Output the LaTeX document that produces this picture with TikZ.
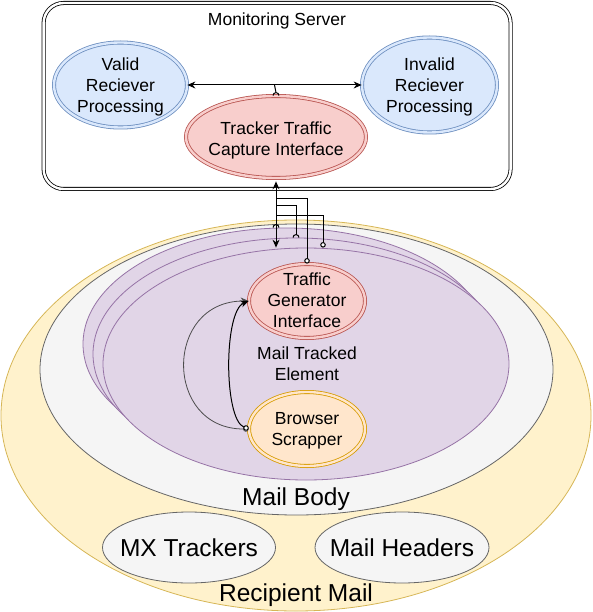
\documentclass[tikz,border=0pt]{standalone}
\usepackage{fontspec}
\setmainfont{Liberation Sans}
\usetikzlibrary{arrows.meta,shapes.geometric}
\definecolor{ylwF}{HTML}{FFF2CC}
\definecolor{ylwD}{HTML}{D6B656}
\definecolor{gryF}{HTML}{F5F5F5}
\definecolor{gryD}{HTML}{666666}
\definecolor{purF}{HTML}{E1D5E7}
\definecolor{purD}{HTML}{9673A6}
\definecolor{redF}{HTML}{F8CECC}
\definecolor{redD}{HTML}{B85450}
\definecolor{bluF}{HTML}{DAE8FC}
\definecolor{bluD}{HTML}{6C8EBF}
\definecolor{orgF}{HTML}{FFE6CC}
\definecolor{orgD}{HTML}{D79B00}
\tikzset{
  ell/.style={ellipse, inner sep=0pt, line width=0.8pt},
  dbl/.style={double distance=2.4pt, line width=0.8pt},
  txt/.style={font=\fontsize{17.5}{21}\selectfont, align=center, inner sep=0pt},
  bigtxt/.style={font=\fontsize{24.5}{29}\selectfont, align=center, inner sep=0pt},
  conn/.style={line width=1pt, draw=black},
  stk/.tip={Stealth[length=8pt,width=7pt]},
  cir/.tip={Circle[length=5.5pt,fill=white]},
}
\begin{document}
\begin{tikzpicture}[x=1pt,y=-1pt]
\useasboundingbox (0,0) rectangle (592,612);
% ---------- Monitoring server ----------
\node[draw=black, dbl, double=white, rounded corners=20pt, minimum width=467pt, minimum height=186pt, inner sep=0pt] (mon) at (277.1,96) {};
\node[txt] (monT) at (277,21) {Monitoring Server};
\node[ell, dbl, draw=bluD, fill=bluF, double=bluF, minimum width=133pt, minimum height=85pt] (valid) at (120.5,85) {};
\node[txt] (validT) at (120.5,87) {Valid\\Reciever\\Processing};
\node[ell, dbl, draw=bluD, fill=bluF, double=bluF, minimum width=135pt, minimum height=95pt] (invalid) at (429.5,85) {};
\node[txt] (invalidT) at (429.5,87) {Invalid\\Reciever\\Processing};
\node[ell, dbl, draw=redD, fill=redF, double=redF, minimum width=180pt, minimum height=82pt] (tracker) at (276,137) {};
\node[txt] (trackerT) at (276,140.5) {Tracker Traffic\\Capture Interface};
% ---------- Recipient mail ----------
\node[ell, draw=ylwD, fill=ylwF, minimum width=590pt, minimum height=391pt] (recip) at (296,415.5) {};
\node[ell, draw=gryD, fill=gryF, minimum width=513pt, minimum height=291pt] (body) at (296.5,369.5) {};
\node[ell, draw=purD, fill=purF, minimum width=406pt, minimum height=232pt] (Aell) at (286,344) {};
\node[ell, draw=purD, fill=purF, minimum width=406pt, minimum height=232pt] (Bell) at (296,354) {};
\node[ell, draw=purD, fill=purF, minimum width=406pt, minimum height=232pt] (Cell) at (306,364) {};
\node[ell, dbl, draw=redD, fill=redF, double=redF, minimum width=116pt, minimum height=74pt] (tgi) at (307,301) {};
\node[txt] (tgiT) at (307,300) {Traffic\\Generator\\Interface};
\node[txt] (mteT) at (307,364) {Mail Tracked\\Element};
\node[ell, dbl, draw=orgD, fill=orgF, double=orgF, minimum width=116pt, minimum height=74pt] (bs) at (307,429) {};
\node[txt] (bsT) at (307,431) {Browser\\Scrapper};
\node[bigtxt] (bodyT) at (296,499) {Mail Body};
\node[ell, draw=gryD, fill=gryF, minimum width=173pt, minimum height=71pt] (mx) at (189,547.5) {};
\node[bigtxt] (mxT) at (189,548) {MX Trackers};
\node[ell, draw=gryD, fill=gryF, minimum width=174pt, minimum height=71pt] (mh) at (402,547.5) {};
\node[bigtxt] (mhT) at (402,548) {Mail Headers};
\node[bigtxt] (recipT) at (296,595) {Recipient Mail};
% ---------- connectors ----------
\draw[conn, stk-stk] (valid.east) -- coordinate[pos=0.5] (hmid) (invalid.west);
\draw[conn] (hmid) -- ([yshift=3pt]tracker.north);
\draw[conn] ([xshift=-3pt]tracker.north) arc[start angle=180, end angle=0, radius=3pt];
\coordinate (vtop) at ([yshift=-3pt]tracker.south);
\coordinate (vbot) at (tracker.south |- Cell.north);
\draw[conn, stk-stk] (vtop) -- (vbot);
\coordinate (hopA) at (tracker.south |- Aell.north);
\draw[conn] ([xshift=-3pt]hopA) arc[start angle=180, end angle=0, radius=3pt];
\draw[conn, -cir] (tracker.south) ++(0,20) -| (tgi.north);
\draw[conn] (tracker.south) ++(0,27) -| ([yshift=3pt]Bell.north);
\draw[conn] ([xshift=-3pt]Bell.north) arc[start angle=180, end angle=0, radius=3pt];
\coordinate (cpt) at ([xshift=17pt]Cell.north);
\draw[conn, -cir] (tracker.south) ++(0,37) -| (cpt);
\draw[line width=0.8pt, draw=black!70, cir-stk] (bs.west) .. controls +(-85,0) and +(-85,0) .. (tgi.west);
\draw[conn, cir-stk] (bs.west) .. controls +(-25,-10) and +(-25,10) .. (tgi.west);
\end{tikzpicture}
\end{document}
